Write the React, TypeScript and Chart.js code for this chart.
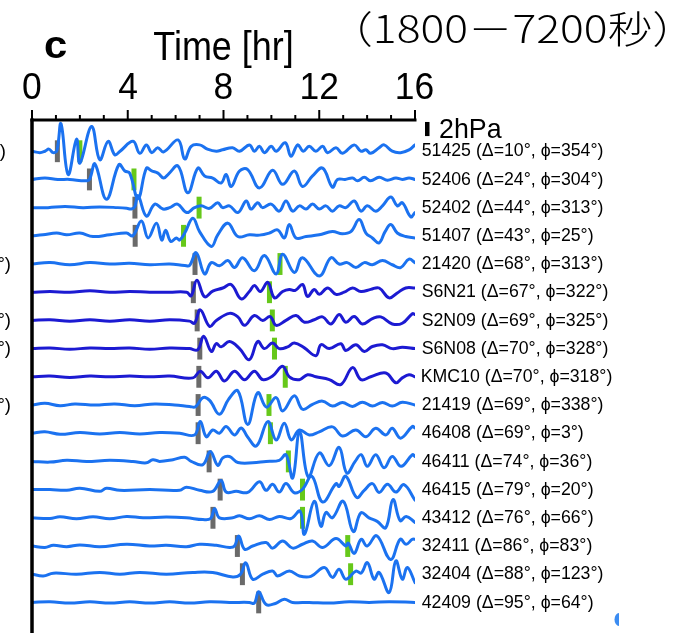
import React, { useEffect, useRef } from 'react';
import { Chart, registerables } from 'chart.js';

Chart.register(...registerables);

// ---------- data ----------
const stations = ['51425', '52406', '52402', '51407', '21420', 'S6N21', 'S2N09', 'S6N08', 'KMC10', '21419', '46408', '46411', '46415', '43412', '32411', '32404', '42409'];
const distances = [10, 24, 44, 43, 68, 67, 69, 70, 70, 69, 69, 74, 79, 76, 86, 88, 95];
const azimuths = [354, 304, 313, 25, 313, 322, 325, 328, 318, 338, 3, 36, 20, 66, 83, 123, 64];
const darkTrace = [false, false, false, false, false, true, true, true, true, false, false, false, false, false, false, false, false];
const grayArrivals = [1.06, 2.4, 4.3, 4.31, 6.81, 6.74, 6.9, 7.01, 6.97, 6.94, 6.94, 7.4, 7.86, 7.56, 8.58, 8.79, 9.47];
const greenArrivals: (number | null)[] = [2.0, 4.26, 6.98, 6.33, 10.36, 9.92, 10.04, 10.13, 10.58, 9.9, 9.96, 10.71, 11.3, 11.3, 13.19, 13.31, null];
const timeMajorTicks = [0, 4, 8, 12, 16];
const timeMinorTicks = [1, 2, 3, 5, 6, 7, 9, 10, 11, 13, 14, 15];
const leftPanelRows = [0, 4, 6, 7, 9];
const leftPanelTexts = [')', '°)', '°)', '7°)', '°)'];
const scaleBarHPa = 2;
const traceStepHPa = 4;

// waveforms: [time hr, pressure hPa]
const w51425 = [[0,0],[0.33,-0.2],[0.54,0],[0.71,0.3],[0.88,-0.2],[1.04,0.1],[1.21,3.9],[1.51,-3.3],[1.86,1.7],[2.0,-1.7],[2.49,3.5],[2.83,-1.2],[3.18,1.4],[3.46,-0.5],[3.68,0],[4.22,1.4],[4.5,-0.3],[4.78,0.9],[5.0,-0.2],[5.25,0.5],[5.5,-0.1],[6.1,1.6],[6.38,-1.1],[6.65,0.7],[7.0,0.9],[7.33,0.3],[7.7,0],[7.96,0.2],[8.38,0.5],[8.67,0],[9.08,0.9],[9.29,0],[9.5,0.7],[9.71,-0.2],[9.99,0.7],[10.2,0],[10.58,1.2],[10.82,-0.7],[11.1,0.9],[11.33,0],[11.58,0.7],[11.86,0],[12.14,0.7],[12.35,-0.2],[12.7,0.5],[12.97,-0.3],[13.46,0.9],[13.74,0],[13.95,0.2],[14.15,-0.3],[14.5,0.5],[14.71,0.9],[15.05,0],[15.4,-0.2],[15.75,0.2],[16,0.9]];
const w52406 = [[0,0],[0.54,0.2],[1.08,0],[1.58,0],[2.21,-0.2],[2.4,0],[2.63,2.2],[3.11,-2.8],[3.63,2.1],[3.88,1.2],[4.08,0.9],[4.43,-2.7],[4.78,1.6],[5.0,1.2],[5.26,0.9],[5.5,0.2],[5.71,0.8],[6.1,1.9],[6.51,-1.9],[6.93,1.6],[7.21,0.5],[7.55,0.2],[7.9,-0.5],[8.11,0.7],[8.32,-1.0],[8.67,1.2],[9.01,1.4],[9.5,-1.2],[10.05,1.3],[10.47,-0.7],[10.96,1.2],[11.3,-1.0],[11.72,0.5],[12.14,1.6],[12.55,-1.1],[12.76,0],[13.08,0],[13.39,0.2],[13.6,-0.2],[13.88,0.3],[14.15,-0.2],[14.5,0.3],[14.85,-0.1],[15.2,0.2],[15.47,0],[15.75,0.2],[16,0]];
const w52402 = [[0,0],[0.67,0],[1.38,0.15],[2.13,0],[2.83,0.1],[3.58,0],[3.96,-0.1],[4.15,-0.2],[4.29,0.1],[4.43,1.7],[4.78,-1.2],[5.13,0.5],[5.47,-0.2],[5.75,0],[6.08,0.5],[6.46,-0.7],[6.79,0],[7.07,0.25],[7.42,-0.1],[7.76,0.7],[7.96,0],[8.25,0.25],[8.6,-0.7],[8.95,0.95],[9.15,-0.2],[9.43,0.7],[9.63,0],[9.99,0.5],[10.33,-0.5],[10.61,0.95],[10.89,-0.5],[11.17,0.25],[11.45,-0.2],[11.72,0.5],[12.0,-0.2],[12.28,0.25],[12.55,-0.5],[12.83,0.25],[13.11,0],[13.46,0.95],[13.74,-0.5],[14.01,0.25],[14.36,-0.5],[14.64,0.25],[14.99,1.5],[15.26,0.25],[15.47,0.7],[15.82,-1.3],[16,-0.7]];
const w51407 = [[0,0],[0.46,0.15],[1.03,0.4],[1.45,0.15],[2.0,0.4],[2.55,-0.1],[3.25,0.15],[3.95,0.4],[4.21,0],[4.57,2.1],[4.85,-0.3],[5.2,1.8],[5.42,-0.6],[5.58,0.8],[5.8,-0.8],[6.03,-0.3],[6.17,-0.6],[6.38,0.4],[6.72,2.5],[7.0,0.6],[7.49,-1.5],[7.76,0.15],[8.18,1.8],[8.6,-0.1],[9.08,0.15],[9.5,0.1],[9.92,0.4],[10.26,0.85],[10.54,-0.3],[10.75,1.6],[11.03,-0.3],[11.45,-0.1],[12.0,0.15],[12.55,0.6],[12.96,0.3],[13.32,0.6],[13.67,2.3],[13.95,0.4],[14.22,-0.3],[14.5,-1.0],[14.75,0.6],[14.99,1.6],[15.26,0.4],[15.61,-0.1],[16,-0.3]];
const w21420 = [[0,0],[0.75,0.2],[1.58,-0.1],[2.42,0.2],[3.25,0],[4.08,0.1],[4.92,-0.1],[5.75,0],[6.38,-0.2],[6.58,-0.2],[6.86,1.6],[7.21,-1.4],[7.49,0.2],[7.83,-0.25],[8.18,0.5],[8.46,-0.5],[8.8,0.9],[9.29,-0.95],[9.71,1.2],[10.2,-1.4],[10.47,1.4],[10.96,-1.2],[11.3,0.9],[12.0,-1.7],[12.49,0.9],[12.83,0],[13.17,0.2],[13.53,-0.5],[13.88,0.2],[14.22,-0.1],[14.64,0.5],[15.05,-0.1],[15.4,-0.5],[15.75,0.7],[16,0.2]];
const wS6N21 = [[0,0],[0.75,0.1],[1.58,0],[2.42,0.2],[3.25,0],[4.08,0.1],[4.92,0],[5.75,0],[6.46,0],[6.65,-0.5],[6.89,1.7],[7.21,-0.65],[7.55,0.15],[7.97,0.6],[8.32,1.1],[8.74,-0.95],[9.08,0.1],[9.29,0.95],[9.54,0.1],[9.85,1.4],[10.13,-0.8],[10.47,0.1],[10.75,0.4],[11.0,0.25],[11.3,1.1],[11.51,-0.6],[11.79,0.4],[12.0,-0.3],[12.35,0.6],[12.7,-0.3],[13.04,0],[13.39,0.6],[13.74,0.1],[14.15,0.4],[14.5,0.6],[14.92,-0.8],[15.26,-0.1],[15.61,0.6],[16,0.6]];
const wS2N09 = [[0,0],[0.75,0.1],[1.58,-0.1],[2.42,0.1],[3.25,-0.1],[4.08,0.1],[4.92,-0.1],[5.75,0.1],[6.58,-0.1],[6.79,-0.4],[7.03,1.5],[7.42,-0.85],[7.7,0],[8.25,1.0],[8.6,0.5],[8.88,-0.7],[9.29,0.7],[9.64,0],[9.95,0.55],[10.2,-0.7],[10.61,0],[11.03,0.7],[11.38,-0.25],[11.79,0.1],[12.14,0.5],[12.49,-0.5],[12.83,0.85],[13.11,-0.25],[13.46,0.55],[13.8,-0.5],[14.22,0.25],[14.57,0.5],[15.05,-0.5],[15.47,-0.4],[15.89,0.95],[16,0.85]];
const wS6N08 = [[0,0],[0.75,0.1],[1.58,-0.1],[2.42,0.1],[3.25,0],[4.08,0.1],[4.92,-0.1],[5.75,0.1],[6.58,0],[6.93,-0.15],[7.17,1.75],[7.49,-0.4],[7.7,0.7],[7.9,0.25],[8.25,1.0],[8.67,0],[9.08,-1.55],[9.43,1.0],[9.71,0],[10.05,0.8],[10.33,0],[10.68,0.25],[10.96,0.8],[11.38,0.1],[11.86,-1.0],[12.07,0.55],[12.42,0],[12.9,0.7],[13.11,-0.25],[13.53,0.55],[13.88,-0.4],[14.22,0.3],[14.64,0.55],[15.05,0],[15.47,0.2],[16,0]];
const wKMC10 = [[0,0],[0.75,0.1],[1.58,-0.1],[2.42,0.1],[3.25,0],[4.08,0.1],[4.92,0],[5.75,0.1],[6.72,-0.15],[7.03,0.8],[7.35,-0.15],[7.7,0.8],[8.04,-0.6],[8.46,0.8],[8.88,-0.4],[9.29,0.8],[9.64,-0.4],[10.05,0.1],[10.47,1.5],[10.75,0],[11.17,-0.4],[11.51,0.3],[11.86,0],[12.42,-0.4],[12.9,-1.1],[13.39,1.3],[13.74,-0.4],[14.15,0],[14.78,0.55],[15.2,-0.85],[15.47,-0.15],[15.75,0.3],[16,0]];
const w21419 = [[0,0],[0.54,0.25],[1.17,-0.1],[1.79,0.15],[2.63,0],[3.46,0.15],[4.29,-0.1],[5.13,0.15],[5.96,0],[6.58,-0.2],[6.83,-0.25],[7.14,1.05],[7.42,0.65],[7.83,-1.3],[8.21,0.8],[8.6,2.0],[9.01,-2.75],[9.43,1.75],[9.79,-0.3],[10.2,1.05],[10.47,-0.85],[10.96,1.3],[11.3,-0.6],[11.72,0.1],[12.14,0.55],[12.55,-0.15],[12.97,0.35],[13.39,-0.2],[13.8,0.4],[14.22,-0.15],[14.64,0.35],[15.05,-0.15],[15.47,0.4],[16,0]];
const w46408 = [[0,0],[0.54,0.2],[1.17,-0.15],[2.0,0.1],[2.83,-0.1],[3.67,0.1],[4.5,-0.1],[5.33,0.1],[6.17,0],[6.79,-0.25],[7.03,1.65],[7.28,-0.5],[7.55,0.45],[7.83,0],[8.11,0.95],[8.46,-0.25],[8.74,0.75],[9.0,-0.5],[9.38,-1.8],[9.85,1.65],[10.2,-0.95],[10.54,1.4],[10.83,-0.95],[11.17,0.45],[11.58,-0.25],[12.0,0.2],[12.55,0.9],[12.97,-0.4],[13.53,0.45],[13.95,-0.5],[14.36,0.7],[14.78,-0.25],[15.05,0.7],[15.4,-0.7],[15.89,0.95],[16,0.75]];
const w46411 = [[0,0],[0.75,-0.1],[1.45,0.15],[2.28,0],[3.25,0.15],[4.22,0],[4.78,-0.2],[5.05,0.25],[5.33,0],[5.89,0.25],[6.38,0.6],[6.65,0],[7.14,-0.45],[7.45,1.4],[7.76,-0.55],[7.97,0.5],[8.25,0.7],[8.6,-0.15],[9.22,-0.2],[9.78,0],[10.33,0.15],[10.61,0.95],[10.89,-2.35],[11.18,4.2],[11.54,-2.2],[12.0,1.2],[12.42,-0.6],[12.83,2.0],[13.15,-1.65],[13.5,0],[13.75,0.95],[14.01,-0.7],[14.36,0.95],[14.71,-0.9],[15.05,0.7],[15.42,-0.7],[15.89,0.95],[16,0.7]];
const w46415 = [[0,0],[0.75,0],[1.45,-0.1],[2.0,0.2],[2.83,-0.25],[3.11,0.2],[3.67,-0.1],[4.92,0],[6.17,-0.1],[6.45,0.35],[7.0,-0.1],[7.55,-0.25],[7.9,1.3],[8.11,-0.35],[8.53,-0.25],[9.01,-0.4],[9.5,1.1],[9.78,-0.1],[10.05,0.75],[10.33,-0.35],[10.61,0.85],[10.96,-0.45],[11.3,0.05],[11.69,1.9],[12.14,-1.75],[12.7,0.85],[12.83,0.45],[13.11,1.9],[13.56,-1.1],[13.88,-0.1],[14.22,0.85],[14.5,-0.4],[14.85,0.75],[15.2,-0.35],[15.54,0.7],[16,-1.5]];
const w43412 = [[0,0],[0.75,-0.1],[1.17,0.15],[1.86,-0.15],[2.55,0.15],[3.25,-0.15],[3.95,0.2],[4.64,0],[5.61,0.1],[6.45,0],[7.14,-0.25],[7.46,-0.1],[7.63,1.3],[7.83,0],[8.39,0],[8.67,0.3],[9.08,-0.15],[9.5,0.3],[9.92,-0.25],[10.33,0.2],[10.82,-0.1],[11.2,0.95],[11.38,-2.35],[11.79,2.35],[12.07,-1.2],[12.28,0.75],[12.55,0],[13.0,2.35],[13.42,-1.95],[13.74,0.7],[14.08,0],[14.42,-0.5],[14.78,-1.4],[15.08,2.6],[15.38,-0.4],[15.63,0.2],[16,-0.65]];
const w32411 = [[0,0],[0.54,-0.2],[0.89,0.1],[1.45,-0.1],[2.0,0.15],[2.83,-0.1],[3.95,0.25],[4.92,0],[5.61,0.1],[6.45,-0.1],[7.0,0.25],[7.7,0.1],[8.25,-0.2],[8.46,0],[8.64,1.4],[8.88,-0.45],[9.22,0],[9.78,0.5],[10.05,-0.3],[10.47,0.7],[10.89,-0.3],[11.3,0.25],[11.72,0.7],[12.14,-0.2],[12.7,1.05],[13.11,0],[13.21,0.4],[13.46,-1.05],[13.75,0.95],[14.0,0],[14.4,1.45],[14.98,-1.9],[15.38,0.95],[15.63,0.25],[15.89,0.95],[16,0.95]];
const w32404 = [[0,0],[0.47,-0.25],[0.89,0.15],[1.86,0],[2.83,0.25],[3.67,0],[4.5,0.25],[5.61,0],[6.72,0.25],[7.55,0.25],[8.39,-0.4],[8.71,0],[8.93,1.6],[9.22,-0.7],[9.64,0],[10.05,0.45],[10.26,-0.25],[10.75,0.45],[11.17,-0.25],[11.65,-0.3],[12.21,0.95],[12.55,-0.45],[12.83,0.7],[13.11,-0.7],[13.53,0.45],[13.75,0.15],[14.01,1.65],[14.29,-0.7],[14.5,0.25],[14.92,-2.6],[15.2,1.9],[15.47,-0.7],[15.68,0.95],[16,-1.2]];
const w42409 = [[0,0],[0.75,0.1],[1.58,-0.1],[2.42,0.1],[3.25,-0.1],[4.08,0.1],[4.92,-0.1],[5.75,0.1],[6.58,-0.1],[7.42,0.1],[8.25,0],[9.08,0],[9.29,-0.1],[9.47,1.5],[9.78,-0.3],[10.17,-0.15],[10.54,0.45],[10.88,0],[11.58,0],[12.42,-0.1],[13.25,0.1],[14.08,0],[14.92,0.1],[16,0]];

const waveforms = [w51425, w52406, w52402, w51407, w21420, wS6N21, wS2N09, wS6N08, wKMC10, w21419, w46408, w46411, w46415, w43412, w32411, w32404, w42409];

// ---------- style ----------
const LIGHT_BLUE = '#1b72f0';
const DARK_BLUE = '#1c1ad2';
const GRAY = '#6a6a6a';
const GREEN = '#66c81a';
const Y_MAX = 4.43;
const Y_MIN = -68.34;
const SANS = '"Liberation Sans", Arial, sans-serif';

function fitInk(ctx: CanvasRenderingContext2D, text: string, font: string, inkLeft: number, inkRight: number, baseline: number) {
  ctx.save();
  ctx.font = font;
  ctx.textAlign = 'left';
  ctx.textBaseline = 'alphabetic';
  const m = ctx.measureText(text);
  const w = m.actualBoundingBoxLeft + m.actualBoundingBoxRight;
  const sx = (inkRight - inkLeft) / w;
  ctx.translate(inkLeft, baseline);
  ctx.scale(sx, 1);
  ctx.fillText(text, m.actualBoundingBoxLeft, 0);
  ctx.restore();
  return sx;
}

function drawScaled(ctx: CanvasRenderingContext2D, text: string, font: string, sx: number, inkCenterX: number | null, inkLeftX: number | null, baseline: number) {
  ctx.save();
  ctx.font = font;
  ctx.textAlign = 'left';
  ctx.textBaseline = 'alphabetic';
  const m = ctx.measureText(text);
  const w = (m.actualBoundingBoxLeft + m.actualBoundingBoxRight) * sx;
  const left = inkCenterX !== null ? inkCenterX - w / 2 : (inkLeftX as number);
  ctx.translate(left, baseline);
  ctx.scale(sx, 1);
  ctx.fillText(text, m.actualBoundingBoxLeft, 0);
  ctx.restore();
}

const decorPlugin = {
  id: 'decor',
  beforeDatasetsDraw(chart: any) {
    const ctx = chart.ctx as CanvasRenderingContext2D;
    const xs = chart.scales.x;
    const ys = chart.scales.y;
    ctx.save();
    const mark = (t: number, i: number, color: string) => {
      const x = xs.getPixelForValue(t);
      const off = -traceStepHPa * i;
      const y1 = ys.getPixelForValue(off + 1.55);
      const y2 = ys.getPixelForValue(off - 1.55);
      ctx.fillStyle = color;
      ctx.fillRect(x - 2.5, y1, 5, y2 - y1);
    };
    grayArrivals.forEach((t, i) => mark(t, i, GRAY));
    greenArrivals.forEach((t, i) => { if (t !== null) mark(t, i, GREEN); });
    ctx.restore();
  },
  afterDatasetsDraw(chart: any) {
    const ctx = chart.ctx as CanvasRenderingContext2D;
    const xs = chart.scales.x;
    const ys = chart.scales.y;
    const top = chart.chartArea.top;
    const x0 = xs.getPixelForValue(0);
    const x16 = xs.getPixelForValue(16);
    ctx.save();
    ctx.strokeStyle = '#000';
    ctx.lineCap = 'butt';
    // top axis
    ctx.lineWidth = 3;
    ctx.beginPath();
    ctx.moveTo(x0 - 1.5, top);
    ctx.lineTo(x16 + 1.5, top);
    ctx.stroke();
    ctx.lineWidth = 2;
    timeMajorTicks.forEach((t) => {
      const x = xs.getPixelForValue(t);
      ctx.beginPath();
      ctx.moveTo(x, top);
      ctx.lineTo(x, top - 10);
      ctx.stroke();
    });
    timeMinorTicks.forEach((t) => {
      const x = xs.getPixelForValue(t);
      ctx.beginPath();
      ctx.moveTo(x, top);
      ctx.lineTo(x, top - 5);
      ctx.stroke();
    });
    // left axis
    ctx.lineWidth = 3.5;
    ctx.beginPath();
    ctx.moveTo(x0, top - 1.5);
    ctx.lineTo(x0, chart.height);
    ctx.stroke();

    ctx.fillStyle = '#000';
    // tick labels
    const tickFont = `37.5px ${SANS}`;
    ctx.font = tickFont;
    const m16 = ctx.measureText('16');
    const tickSx = 36.7 / (m16.actualBoundingBoxLeft + m16.actualBoundingBoxRight);
    timeMajorTicks.forEach((t) => {
      drawScaled(ctx, String(t), tickFont, tickSx, xs.getPixelForValue(t), null, 99.3);
    });
    // titles
    fitInk(ctx, 'Time [hr]', `41px ${SANS}`, 153.3, 291.7, 60);
    fitInk(ctx, 'c', `bold 38.5px ${SANS}`, 45, 66.7, 58.3);
    fitInk(ctx, '（1800－7200秒）', '300 38px "Noto Sans CJK JP", sans-serif', 360, 665, 43);

    // scale bar
    const barX = x16 + 10;
    const yb1 = ys.getPixelForValue(Y_MAX - 0.28);
    const yb2 = ys.getPixelForValue(Y_MAX - 0.28 - scaleBarHPa);
    ctx.fillRect(barX, yb1, 4.5, yb2 - yb1);
    fitInk(ctx, '2hPa', `28px ${SANS}`, 440, 502, 137.7);

    // station labels
    const labelFont = `18.5px ${SANS}`;
    const labels = stations.map((s, i) => `${s} (Δ=${distances[i]}°, ϕ=${azimuths[i]}°)`);
    ctx.font = labelFont;
    const m0 = ctx.measureText(labels[0]);
    const labelSx = (603.3 - 421.7) / (m0.actualBoundingBoxLeft + m0.actualBoundingBoxRight);
    labels.forEach((lab, i) => {
      const yb = ys.getPixelForValue(-traceStepHPa * i);
      drawScaled(ctx, lab, labelFont, labelSx, null, 421.7, yb + 5.2);
    });
    // cut-off labels of the neighbouring panel
    ctx.font = labelFont;
    ctx.textAlign = 'right';
    leftPanelRows.forEach((r, k) => {
      const yb = ys.getPixelForValue(-traceStepHPa * r);
      const txt = leftPanelTexts[k];
      ctx.fillText(txt, txt === ')' ? 6 : 11, yb + 5.5);
    });
    // partial blue mark at lower right
    ctx.fillStyle = '#3b8cf2';
    ctx.beginPath();
    ctx.ellipse(619, 619.5, 4.5, 6.5, 0, Math.PI / 2, (3 * Math.PI) / 2);
    ctx.closePath();
    ctx.fill();
    ctx.restore();
  },
};

export default function App() {
  const ref = useRef<HTMLCanvasElement | null>(null);
  useEffect(() => {
    if (!ref.current) return;
    const datasets = waveforms.map((w, i) => ({
      label: stations[i],
      data: w.map(([t, p]) => ({ x: t, y: p - traceStepHPa * i })),
      borderColor: darkTrace[i] ? DARK_BLUE : LIGHT_BLUE,
      borderWidth: 3,
      pointRadius: 0,
      fill: false,
      tension: 0.4,
      borderJoinStyle: 'round' as const,
      borderCapStyle: 'round' as const,
    }));
    const chart = new Chart(ref.current, {
      type: 'line',
      data: { datasets },
      options: {
        animation: false,
        responsive: false,
        maintainAspectRatio: false,
        events: [],
        layout: { padding: { left: 32, right: 268, top: 120, bottom: 0 } },
        plugins: { legend: { display: false }, tooltip: { enabled: false } },
        scales: {
          x: { type: 'linear', min: 0, max: 16, display: false },
          y: { type: 'linear', min: Y_MIN, max: Y_MAX, display: false },
        },
      },
      plugins: [decorPlugin],
    });
    return () => chart.destroy();
  }, []);
  return (
    <div style={{ position: 'absolute', left: 0, top: 0, width: 683, height: 633, background: '#fff' }}>
      <canvas ref={ref} width={683} height={633} style={{ display: 'block', width: 683, height: 633 }} />
    </div>
  );
}
